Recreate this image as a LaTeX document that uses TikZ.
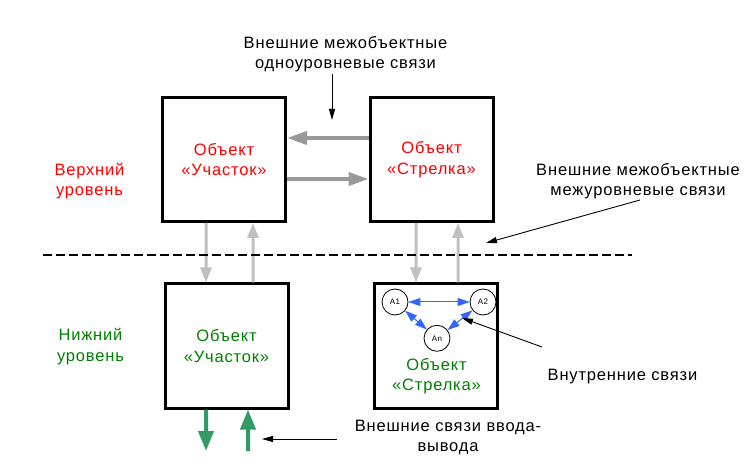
\documentclass[tikz,border=0pt]{standalone}
\usepackage{fontspec}
\setmainfont[LetterSpace=5]{Liberation Sans}
\usetikzlibrary{arrows.meta,calc}
\definecolor{objred}{RGB}{255,0,0}
\definecolor{objgreen}{RGB}{0,128,0}
\definecolor{greyA}{RGB}{153,153,153}
\definecolor{greyB}{RGB}{192,192,192}
\definecolor{grnarrow}{RGB}{51,153,102}
\definecolor{bluarrow}{RGB}{51,102,255}
\begin{document}
\begin{tikzpicture}[x=1bp,y=-1bp,
  obj/.style={draw, line width=3bp, minimum width=123bp, minimum height=124bp, inner sep=0pt, align=center, font=\fontsize{16.5bp}{20.5bp}\selectfont},
  lbl/.style={inner sep=0pt, align=center, font=\fontsize{16.5bp}{20.5bp}\selectfont},
  agent/.style={circle, draw, line width=0.8bp, minimum size=26bp, inner sep=0pt, font=\fontsize{8bp}{9bp}\selectfont},
  horarrow/.style={draw=greyA, line width=4bp, -{Triangle[length=20bp,width=13bp]}},
  verarrow/.style={draw=greyB, line width=3bp, -{Triangle[length=15bp,width=11bp]}},
  iodarrow/.style={draw=grnarrow, line width=4bp, -{Triangle[length=20bp,width=15bp]}},
  pointer/.style={draw=black, line width=0.9bp, -{Triangle[length=11bp,width=6bp]}},
  inner link/.style={draw=bluarrow, line width=1bp, {Triangle[length=12bp,width=8bp]}-{Triangle[length=12bp,width=8bp]}},
  levelline/.style={draw=black, line width=2bp, dash pattern=on 9bp off 4bp}
]
\useasboundingbox[fill=white] (0,0) rectangle (753,474);

% boxes
\node[obj, text=objred] (tl) at (224,159.5) {Объект\\«Участок»};
\node[obj, text=objred] (tr) at (431.5,159.5) {Объект\\«Стрелка»};
\node[obj, text=objgreen] (bl) at (226.5,346) {Объект\\«Участок»};
\node[obj] (br) at (436,346) {};

% agents inside the lower right object
\node[agent] (a1) at (395,302) {A1};
\node[agent] (a2) at (483,302) {A2};
\node[agent] (an) at (437,338.3) {An};
\node[lbl, text=objgreen] (brt) at (436.5,376) {Объект\\«Стрелка»};

\draw[inner link] (a1) -- (a2);
\draw[inner link] (a1) -- (an);
\draw[inner link] (a2) -- (an);

% horizontal links between upper objects
\draw[horarrow] ([yshift=21.5bp]tr.west) -- ([yshift=21.5bp]tl.east);
\draw[horarrow] ([yshift=-19.5bp]tl.east) -- ([yshift=-19.5bp]tr.west);

% vertical links between levels
\draw[verarrow] ([xshift=-18bp]tl.south) -- ([xshift=-20.5bp]bl.north);
\draw[verarrow] ([xshift=26.5bp]bl.north) -- ([xshift=29bp]tl.south);
\draw[verarrow] ([xshift=-15.5bp]tr.south) -- ([xshift=-20bp]br.north);
\draw[verarrow] ([xshift=22bp]br.north) -- ([xshift=26.5bp]tr.south);

% input/output links
\coordinate (g1) at (206,451);
\coordinate (g2) at (248,451);
\draw[iodarrow] ([xshift=-20.5bp]bl.south) -- (g1);
\draw[iodarrow] (g2) -- ([xshift=21.5bp]bl.south);

% level separator
\coordinate (d1) at (43,255);
\coordinate (d2) at (632,255);
\draw[levelline] (d1) -- (d2);

% labels
\node[lbl] (ext1) at (345.5,54) {Внешние межобъектные\\одноуровневые связи};
\node[lbl] (ext2) at (638,181) {Внешние межобъектные\\межуровневые связи};
\node[lbl] (ext3) at (448,437.5) {Внешние связи ввода-\\вывода};
\node[lbl, text=objred] (upper) at (89.5,181) {Верхний\\уровень};
\node[lbl, text=objgreen] (lower) at (90.5,346.7) {Нижний\\уровень};
\node[lbl, anchor=base] (intl) at (622.5,380) {Внутренние связи};

% pointers
\coordinate (p1s) at (332,74);
\coordinate (p1e) at (332,120);
\coordinate (p2s) at (640,200);
\coordinate (p2e) at (486,243);
\coordinate (p3s) at (542,347);
\coordinate (p3e) at (462,318);
\coordinate (p4s) at (337,439);
\coordinate (p4e) at (262,439);
\draw[pointer] (p1s) -- (p1e);
\draw[pointer] (p2s) -- (p2e);
\draw[pointer] (p3s) -- (p3e);
\draw[pointer] (p4s) -- (p4e);
\end{tikzpicture}
\end{document}
